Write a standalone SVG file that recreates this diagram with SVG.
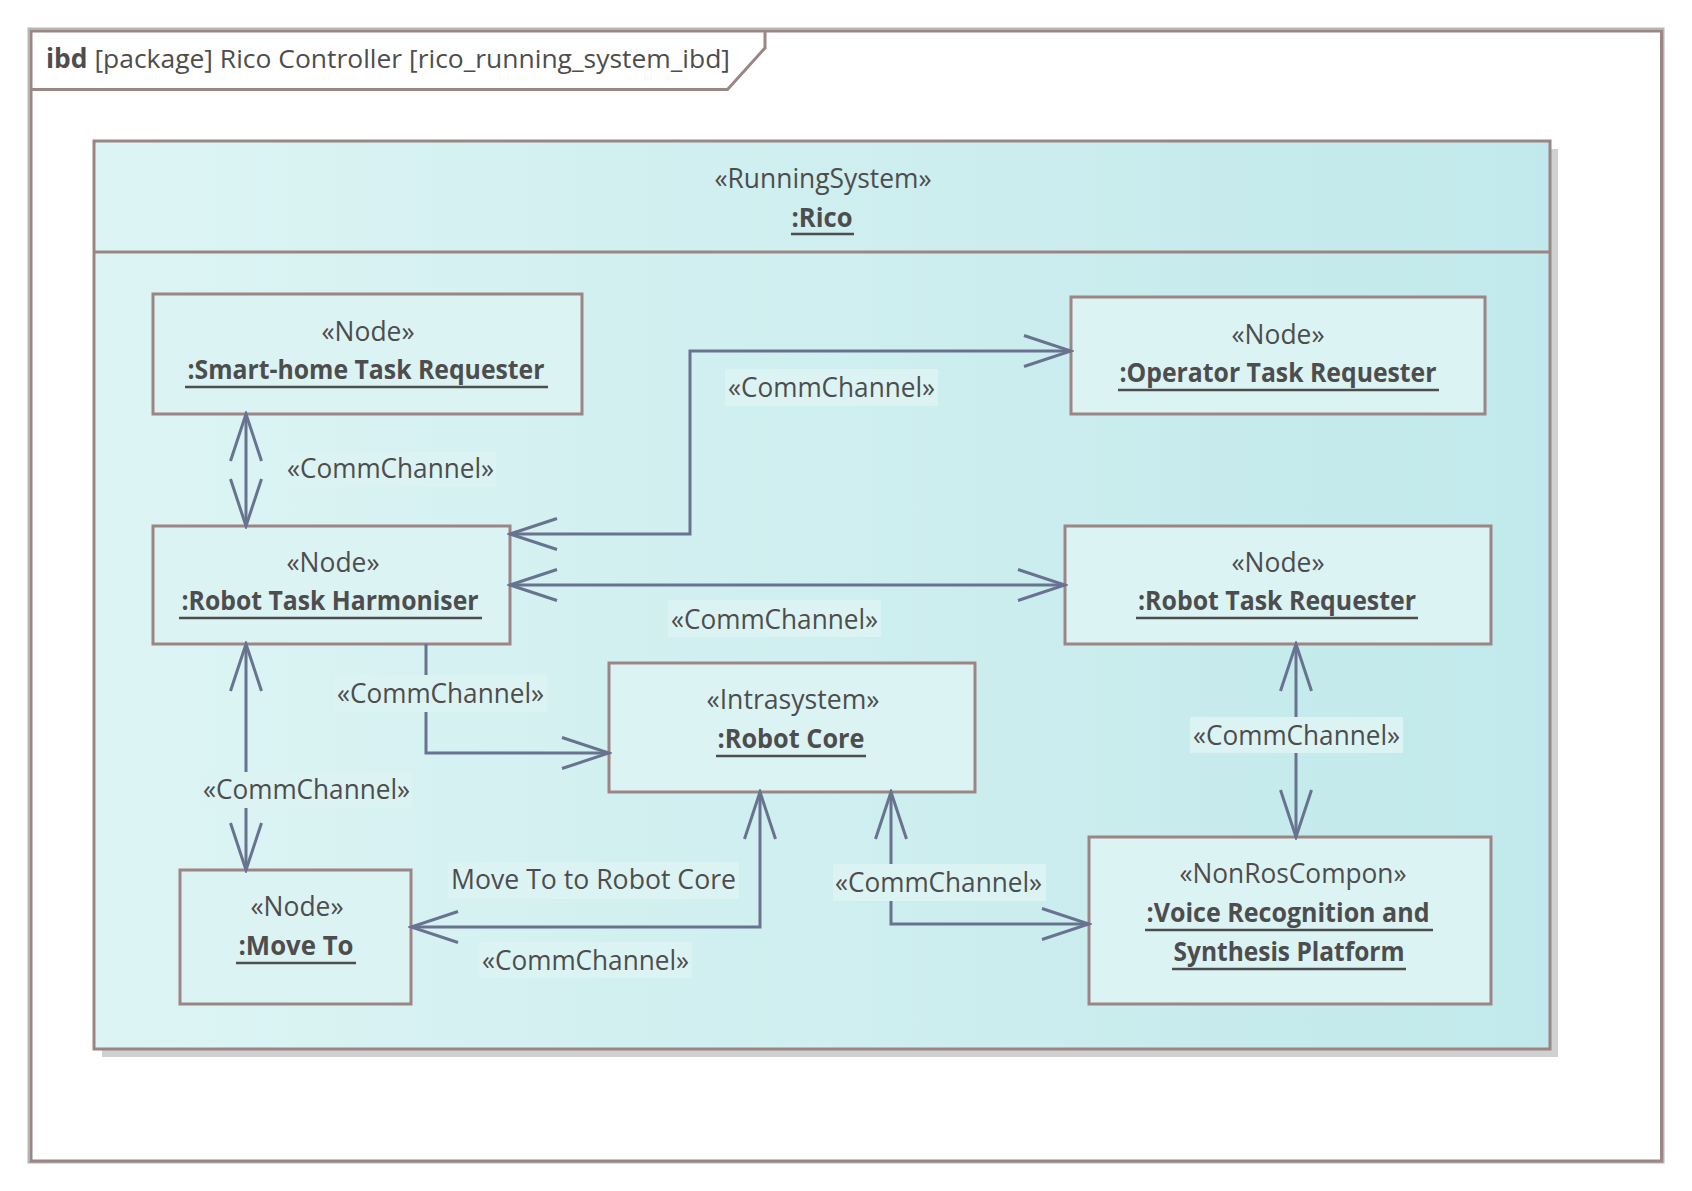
<svg xmlns="http://www.w3.org/2000/svg" width="1692" height="1191" viewBox="0 0 1692 1191">
<style>
text{font-family:"Open Sans","Noto Sans","Liberation Sans",sans-serif;fill:#4d4d4d}
.t{font-size:27px}
.b{font-size:27px;font-weight:bold}
.node{fill:#dcf3f4;stroke:#9b8585;stroke-width:3}
.ul{stroke:#4d4d4d;stroke-width:2.6}
.con{fill:none;stroke:#68738f;stroke-width:3;marker-start:url(#open);marker-end:url(#open)}
.con1{fill:none;stroke:#68738f;stroke-width:3;marker-end:url(#open)}
.lbg{fill:#dcf3f3}
</style>
<defs>
<linearGradient id="cg" x1="0" y1="0" x2="1" y2="0">
<stop offset="0" stop-color="#ddf4f4"/>
<stop offset="1" stop-color="#c1e9eb"/>
</linearGradient>
<marker id="open" markerUnits="userSpaceOnUse" markerWidth="52" markerHeight="36" viewBox="0 0 52 36" refX="49" refY="18" orient="auto-start-reverse">
<path d="M2,2.5 L49,18 L2,33.5" fill="none" stroke="#68738f" stroke-width="3"/>
</marker>
</defs>
<rect width="1692" height="1191" fill="#ffffff"/>
<g id="frame">
<rect x="28.5" y="28.5" width="1635" height="1134" fill="none" stroke="#b5b5b5" stroke-width="2"/>
<rect x="31" y="31" width="1630.5" height="1130" fill="#ffffff" stroke="#9b8585" stroke-width="3"/>
<path d="M31,89.5 H727.5 L765,48 V31" fill="none" stroke="#9b8585" stroke-width="3"/>
<text x="46" y="68" style="font-size:26px" textLength="684" lengthAdjust="spacingAndGlyphs"><tspan font-weight="bold">ibd</tspan> [package] Rico Controller [rico_running_system_ibd]</text>
</g>
<g id="rico">
<rect x="102" y="149" width="1456" height="908" fill="#d0d0d0"/>
<rect x="94" y="141" width="1456" height="908" fill="url(#cg)" stroke="#9b8585" stroke-width="3"/>
<line x1="94" y1="252" x2="1550" y2="252" stroke="#9b8585" stroke-width="3"/>
<text class="t" x="823" y="188" text-anchor="middle" textLength="217" lengthAdjust="spacingAndGlyphs">«RunningSystem»</text>
<text class="b" x="822" y="227" text-anchor="middle" textLength="61" lengthAdjust="spacingAndGlyphs">:Rico</text>
<line class="ul" x1="791" y1="234" x2="854" y2="234"/>
</g>
<g id="smart-home">
<rect class="node" x="153" y="294" width="429" height="120"/>
<text class="t" x="368" y="341" text-anchor="middle" textLength="93" lengthAdjust="spacingAndGlyphs">«Node»</text>
<text class="b" x="366" y="379" text-anchor="middle" textLength="357" lengthAdjust="spacingAndGlyphs">:Smart-home Task Requester</text>
<line class="ul" x1="185" y1="387" x2="548" y2="387"/>
</g>
<g id="harmoniser">
<rect class="node" x="153" y="526" width="357" height="118"/>
<text class="t" x="333" y="572" text-anchor="middle" textLength="93" lengthAdjust="spacingAndGlyphs">«Node»</text>
<text class="b" x="330" y="610" text-anchor="middle" textLength="297" lengthAdjust="spacingAndGlyphs">:Robot Task Harmoniser</text>
<line class="ul" x1="179" y1="618" x2="482" y2="618"/>
</g>
<g id="operator">
<rect class="node" x="1071" y="297" width="414" height="117"/>
<text class="t" x="1278" y="344" text-anchor="middle" textLength="93" lengthAdjust="spacingAndGlyphs">«Node»</text>
<text class="b" x="1278" y="382" text-anchor="middle" textLength="317" lengthAdjust="spacingAndGlyphs">:Operator Task Requester</text>
<line class="ul" x1="1118" y1="390" x2="1439" y2="390"/>
</g>
<g id="robot-task-requester">
<rect class="node" x="1065" y="526" width="426" height="118"/>
<text class="t" x="1278" y="572" text-anchor="middle" textLength="93" lengthAdjust="spacingAndGlyphs">«Node»</text>
<text class="b" x="1277" y="610" text-anchor="middle" textLength="278" lengthAdjust="spacingAndGlyphs">:Robot Task Requester</text>
<line class="ul" x1="1136" y1="618" x2="1418" y2="618"/>
</g>
<g id="robot-core">
<rect class="node" x="609" y="663" width="366" height="129"/>
<text class="t" x="793" y="709" text-anchor="middle" textLength="173" lengthAdjust="spacingAndGlyphs">«Intrasystem»</text>
<text class="b" x="791" y="748" text-anchor="middle" textLength="147" lengthAdjust="spacingAndGlyphs">:Robot Core</text>
<line class="ul" x1="716" y1="756" x2="866" y2="756"/>
</g>
<g id="move-to">
<rect class="node" x="180" y="870" width="231" height="134"/>
<text class="t" x="297" y="916" text-anchor="middle" textLength="93" lengthAdjust="spacingAndGlyphs">«Node»</text>
<text class="b" x="296" y="955" text-anchor="middle" textLength="115" lengthAdjust="spacingAndGlyphs">:Move To</text>
<line class="ul" x1="236" y1="963" x2="356" y2="963"/>
</g>
<g id="voice">
<rect class="node" x="1089" y="837" width="402" height="167"/>
<text class="t" x="1293" y="883" text-anchor="middle" textLength="227" lengthAdjust="spacingAndGlyphs">«NonRosCompon»</text>
<text class="b" x="1288" y="922" text-anchor="middle" textLength="283" lengthAdjust="spacingAndGlyphs">:Voice Recognition and</text>
<line class="ul" x1="1145" y1="930" x2="1433" y2="930"/>
<text class="b" x="1289" y="961" text-anchor="middle" textLength="231" lengthAdjust="spacingAndGlyphs">Synthesis Platform</text>
<line class="ul" x1="1172" y1="969" x2="1406" y2="969"/>
</g>
<g id="connectors">
<path class="con" d="M246,414 V526"/>
<path class="con" d="M510,534 H690 V351 H1071"/>
<path class="con" d="M510,585 H1065"/>
<path class="con1" d="M426,644 V753 H609"/>
<path class="con" d="M246,644 V870"/>
<path class="con" d="M411,927 H760 V792"/>
<path class="con" d="M891,792 V924 H1089"/>
<path class="con" d="M1296,644 V837"/>
</g>
<g id="labels">
<rect class="lbg" x="284" y="452" width="212" height="35"/>
<text class="t" x="287" y="478" textLength="207" lengthAdjust="spacingAndGlyphs">«CommChannel»</text>
<rect class="lbg" x="725" y="369" width="213" height="37"/>
<text class="t" x="728" y="397" textLength="207" lengthAdjust="spacingAndGlyphs">«CommChannel»</text>
<rect class="lbg" x="668" y="600" width="213" height="37"/>
<text class="t" x="671" y="629" textLength="207" lengthAdjust="spacingAndGlyphs">«CommChannel»</text>
<rect class="lbg" x="334" y="675" width="213" height="37"/>
<text class="t" x="337" y="703" textLength="207" lengthAdjust="spacingAndGlyphs">«CommChannel»</text>
<rect class="lbg" x="199" y="772" width="213" height="36"/>
<text class="t" x="203" y="799" textLength="207" lengthAdjust="spacingAndGlyphs">«CommChannel»</text>
<rect class="lbg" x="448" y="862" width="291" height="37"/>
<text class="t" x="451" y="889" textLength="285" lengthAdjust="spacingAndGlyphs">Move To to Robot Core</text>
<rect class="lbg" x="479" y="942" width="213" height="36"/>
<text class="t" x="482" y="970" textLength="207" lengthAdjust="spacingAndGlyphs">«CommChannel»</text>
<rect class="lbg" x="833" y="864" width="213" height="37"/>
<text class="t" x="835" y="892" textLength="207" lengthAdjust="spacingAndGlyphs">«CommChannel»</text>
<rect class="lbg" x="1190" y="717" width="213" height="36"/>
<text class="t" x="1193" y="745" textLength="207" lengthAdjust="spacingAndGlyphs">«CommChannel»</text>
</g>
</svg>
